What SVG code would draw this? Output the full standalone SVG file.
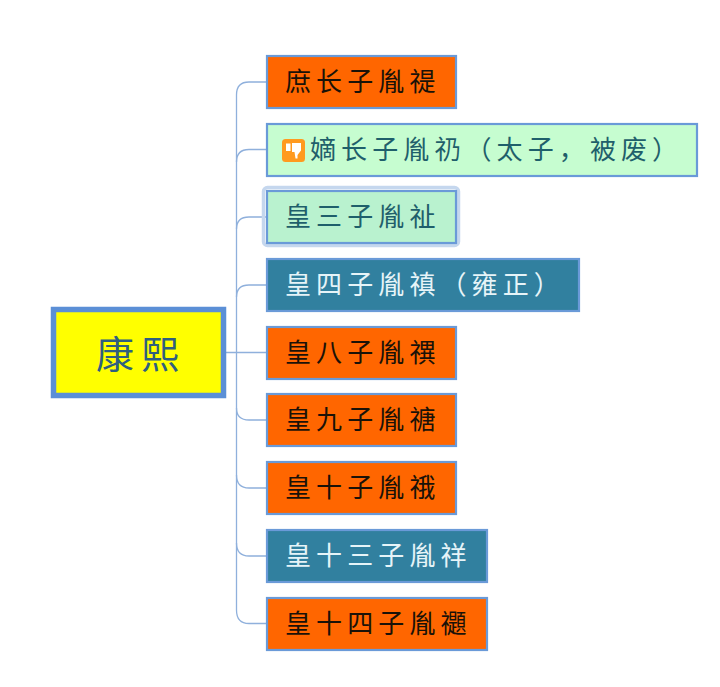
<svg xmlns="http://www.w3.org/2000/svg" width="720" height="687" viewBox="0 0 720 687">
<style>
.n{stroke:#6a9ad8;stroke-width:2.2}
.o{fill:#ff6600}
.g{fill:#c6fdd0}
.m{fill:#b9f2cf}
.b{fill:#31809f}
text{font-family:"Noto Sans CJK SC","Noto Sans CJK TC",sans-serif;font-size:26px;letter-spacing:5.100px}
.k{fill:#1a1208}
.t{fill:#1f5f6b}
.w{fill:#e6f4f8}
.c{fill:none;stroke:#8fb0dc;stroke-width:1.3}
</style>
<rect width="720" height="687" fill="#fff"/>
<g id="connectors">
<path class="c" d="M226 352.500H266"/>
<path class="c" d="M236.500 352.500V95Q236.500 82 249 82H266"/>
<path class="c" d="M236.500 162Q236.500 149.500 249 149.500H266"/>
<path class="c" d="M236.500 229Q236.500 217 249 217H266"/>
<path class="c" d="M236.500 297Q236.500 285 249 285H266"/>
<path class="c" d="M236.500 352.500V610Q236.500 623.500 249 623.500H266"/>
<path class="c" d="M236.500 408Q236.500 420 249 420H266"/>
<path class="c" d="M236.500 475Q236.500 488 249 488H266"/>
<path class="c" d="M236.500 543Q236.500 556 249 556H266"/>
</g>
<g id="root">
<rect x="53.500" y="309.500" width="170" height="86" fill="#ffff00" stroke="#5b8fd6" stroke-width="5.500"/>
<text x="96" y="368" style="font-size:38px;letter-spacing:7px" fill="#2f5f7f">康熙</text>
</g>
<g id="n1"><rect class="n o" x="267" y="56" width="189" height="52"/><text class="k" x="285" y="91">庶长子胤禔</text></g>
<g id="n2"><rect class="n g" x="267" y="124" width="430" height="52"/>
<rect x="282" y="139" width="23" height="23" rx="3.500" fill="#ff9a1f"/>
<path d="M286 143.500H290.500V151H286ZM292 143H301V150.500L297.500 155V158.500H295.500L294.500 152H292Z" fill="#fff"/>
<text class="t" x="310" y="159">嫡长子胤礽（太子，被废）</text></g>
<g id="n3"><rect x="263.500" y="187.500" width="195" height="58" rx="4" fill="none" stroke="#c5d7ee" stroke-width="3.500"/><rect class="n m" x="267" y="191" width="189" height="52"/><text class="t" x="285" y="226">皇三子胤祉</text></g>
<g id="n4"><rect class="n b" x="267" y="259" width="312" height="52"/><text class="w" x="285" y="294">皇四子胤禛（雍正）</text></g>
<g id="n5"><rect class="n o" x="267" y="327" width="189" height="52"/><text class="k" x="285" y="362">皇八子胤禩</text></g>
<g id="n6"><rect class="n o" x="267" y="394" width="189" height="52"/><text class="k" x="285" y="429">皇九子胤禟</text></g>
<g id="n7"><rect class="n o" x="267" y="462" width="189" height="52"/><text class="k" x="285" y="497">皇十子胤䄉</text></g>
<g id="n8"><rect class="n b" x="267" y="530" width="220" height="52"/><text class="w" x="285" y="565">皇十三子胤祥</text></g>
<g id="n9"><rect class="n o" x="267" y="598" width="220" height="52"/><text class="k" x="285" y="633">皇十四子胤禵</text></g>
</svg>
